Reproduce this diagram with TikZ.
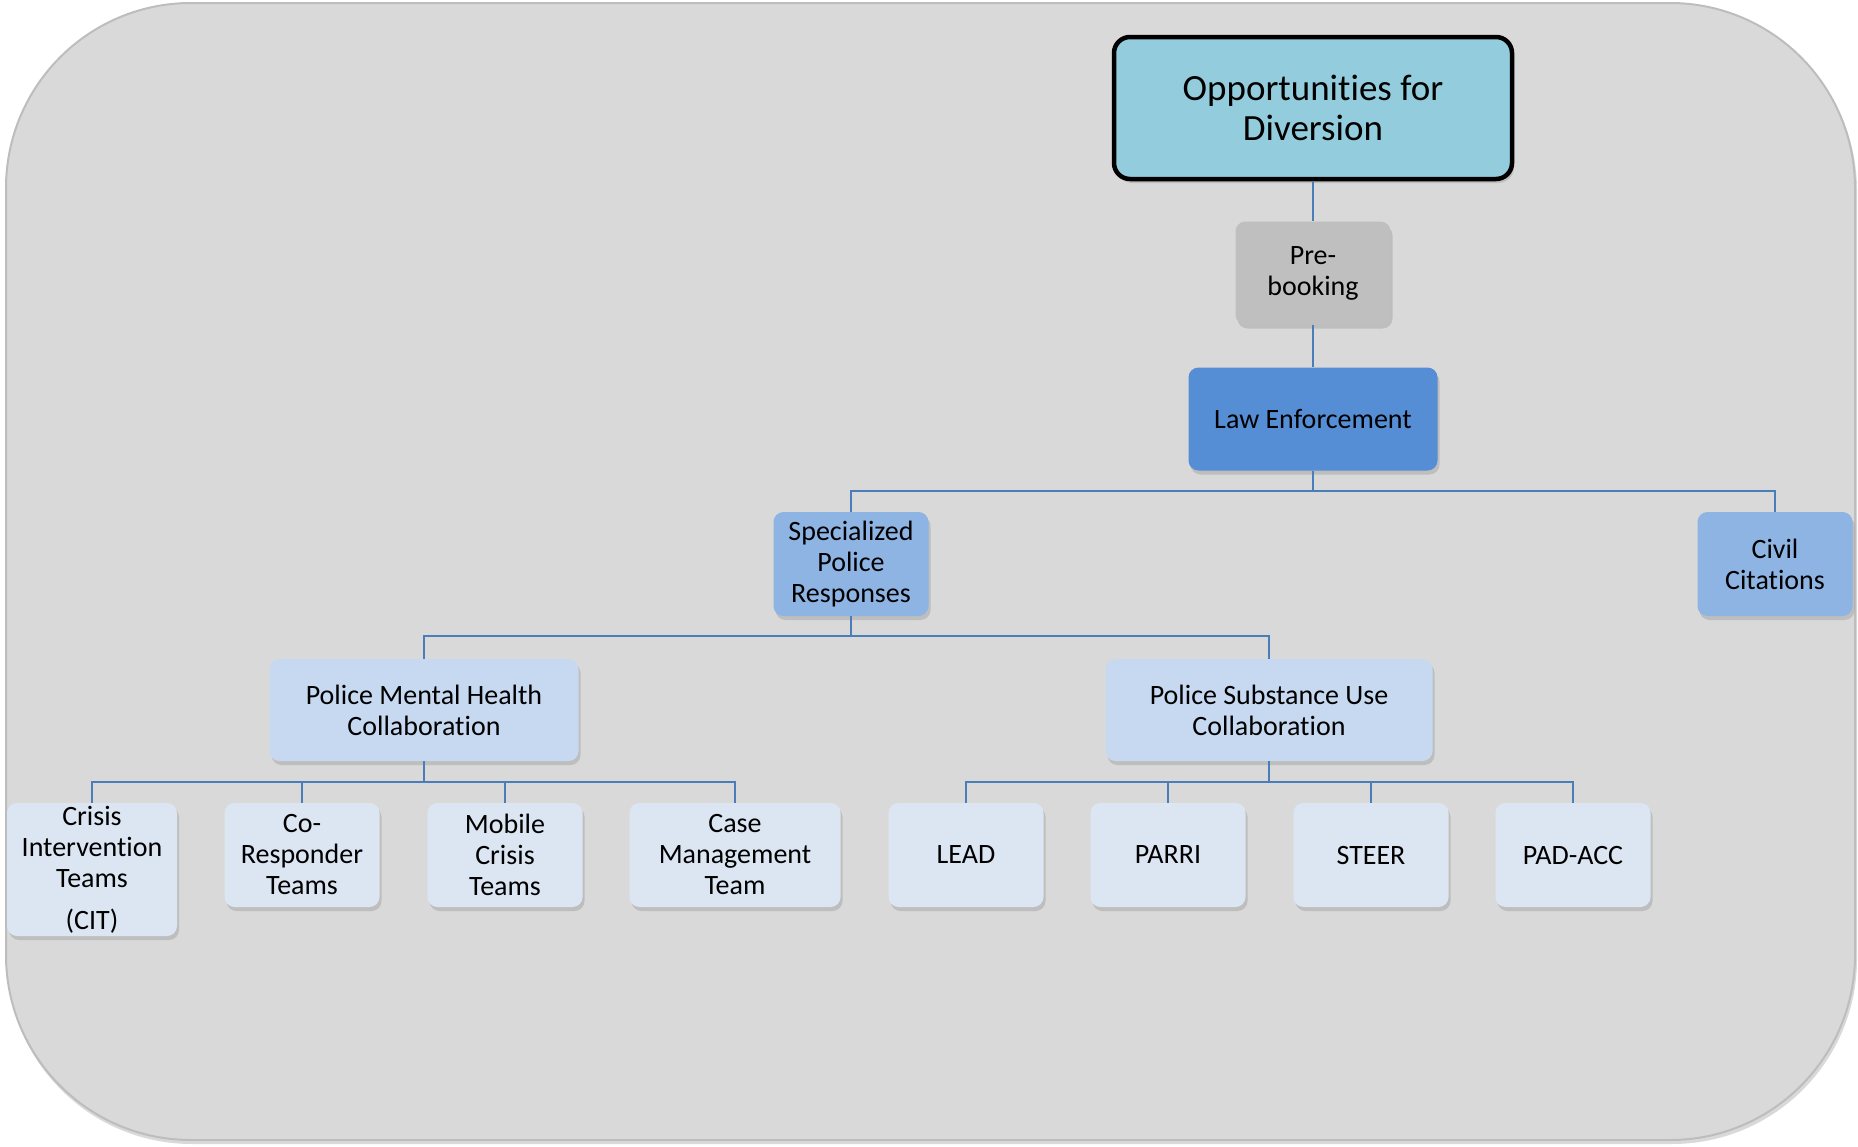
\documentclass[tikz,border=0pt]{standalone}
\usepackage{fontspec}
\setmainfont{Carlito}[Ligatures=NoCommon]
\usetikzlibrary{shadows}
\definecolor{bgc}{HTML}{D9D9D9}
\definecolor{bgline}{HTML}{BDBDBD}
\definecolor{topc}{HTML}{93CDDD}
\definecolor{prec}{HTML}{BFBFBF}
\definecolor{lawc}{HTML}{558ED5}
\definecolor{sprc}{HTML}{8EB4E3}
\definecolor{midc}{HTML}{C6D9F1}
\definecolor{leafc}{HTML}{DCE6F2}
\definecolor{linec}{HTML}{4A7EBB}
\begin{document}
\begin{tikzpicture}[x=1pt,y=-1pt,
  box/.style={rounded corners=10pt, inner sep=0pt, align=center,
    font=\fontsize{28}{31}\selectfont,
    drop shadow={shadow xshift=2pt, shadow yshift=-4pt, opacity=0.3}},
  leaf/.style={box, fill=leafc, minimum width=155pt, minimum height=104pt},
  mid/.style={box, fill=midc, minimum height=102pt},
  conn/.style={draw=linec, line width=2pt}]
\useasboundingbox (0,0) rectangle (1858,1146);
% background panel
\fill[black, opacity=0.15, rounded corners=185pt] (7,6) rectangle (1857,1144);
\draw[draw=bgline, line width=2pt, fill=bgc, rounded corners=185pt] (6,3) rectangle (1855,1140);

% nodes
\node[box, fill=topc, draw=black, line width=4.5pt, rounded corners=16pt,
  minimum width=398pt, minimum height=142pt,
  font=\fontsize{37}{40}\selectfont] (top) at (1313,108) {Opportunities for\\Diversion};
\node[box, fill=prec, minimum width=155pt, minimum height=103pt] (pre) at (1313,273) {Pre-\\booking};
\node[box, fill=lawc, minimum width=249pt, minimum height=103pt] (law) at (1313,419) {Law Enforcement};
\node[box, fill=sprc, minimum width=155pt, minimum height=104pt] (spr) at (851,564) {Specialized\\Police\\Responses};
\node[box, fill=sprc, minimum width=155pt, minimum height=104pt] (civ) at (1775,564) {Civil\\Citations};
\node[mid, minimum width=309pt] (pmh) at (424,710) {Police Mental Health\\Collaboration};
\node[mid, minimum width=327pt] (psu) at (1269,710) {Police Substance Use\\Collaboration};
\node[leaf, minimum width=170pt, minimum height=133pt] (cit) at (92,869.5) {Crisis\\Intervention\\Teams\\[11pt](CIT)};
\node[leaf] (co) at (302,855) {Co-\\Responder\\Teams};
\node[leaf] (mob) at (505,855) {Mobile\\Crisis\\Teams};
\node[leaf, minimum width=211pt] (case) at (735,855) {Case\\Management\\Team};
\node[leaf] (lead) at (966,855) {LEAD};
\node[leaf] (parri) at (1168,855) {PARRI};
\node[leaf] (steer) at (1371,855) {STEER};
\node[leaf] (pad) at (1573,855) {PAD-ACC};

% junctions
\coordinate (j1) at (1313,491);
\coordinate (j2) at (851,636);
\coordinate (j3) at (424,782);
\coordinate (j4) at (1269,782);

% connectors
\draw[conn] (top.south) -- (pre.north);
\draw[conn] (pre.south) -- (law.north);
\draw[conn] (law.south) -- (j1);
\draw[conn] (spr.north) |- (j1) -| (civ.north);
\draw[conn] (spr.south) -- (j2);
\draw[conn] (pmh.north) |- (j2) -| (psu.north);
\draw[conn] (pmh.south) -- (j3);
\draw[conn] (cit.north) |- (j3) -| (case.north);
\draw[conn] (co.north) -- (co.north |- j3);
\draw[conn] (mob.north) -- (mob.north |- j3);
\draw[conn] (psu.south) -- (j4);
\draw[conn] (lead.north) |- (j4) -| (pad.north);
\draw[conn] (parri.north) -- (parri.north |- j4);
\draw[conn] (steer.north) -- (steer.north |- j4);
\end{tikzpicture}
\end{document}
